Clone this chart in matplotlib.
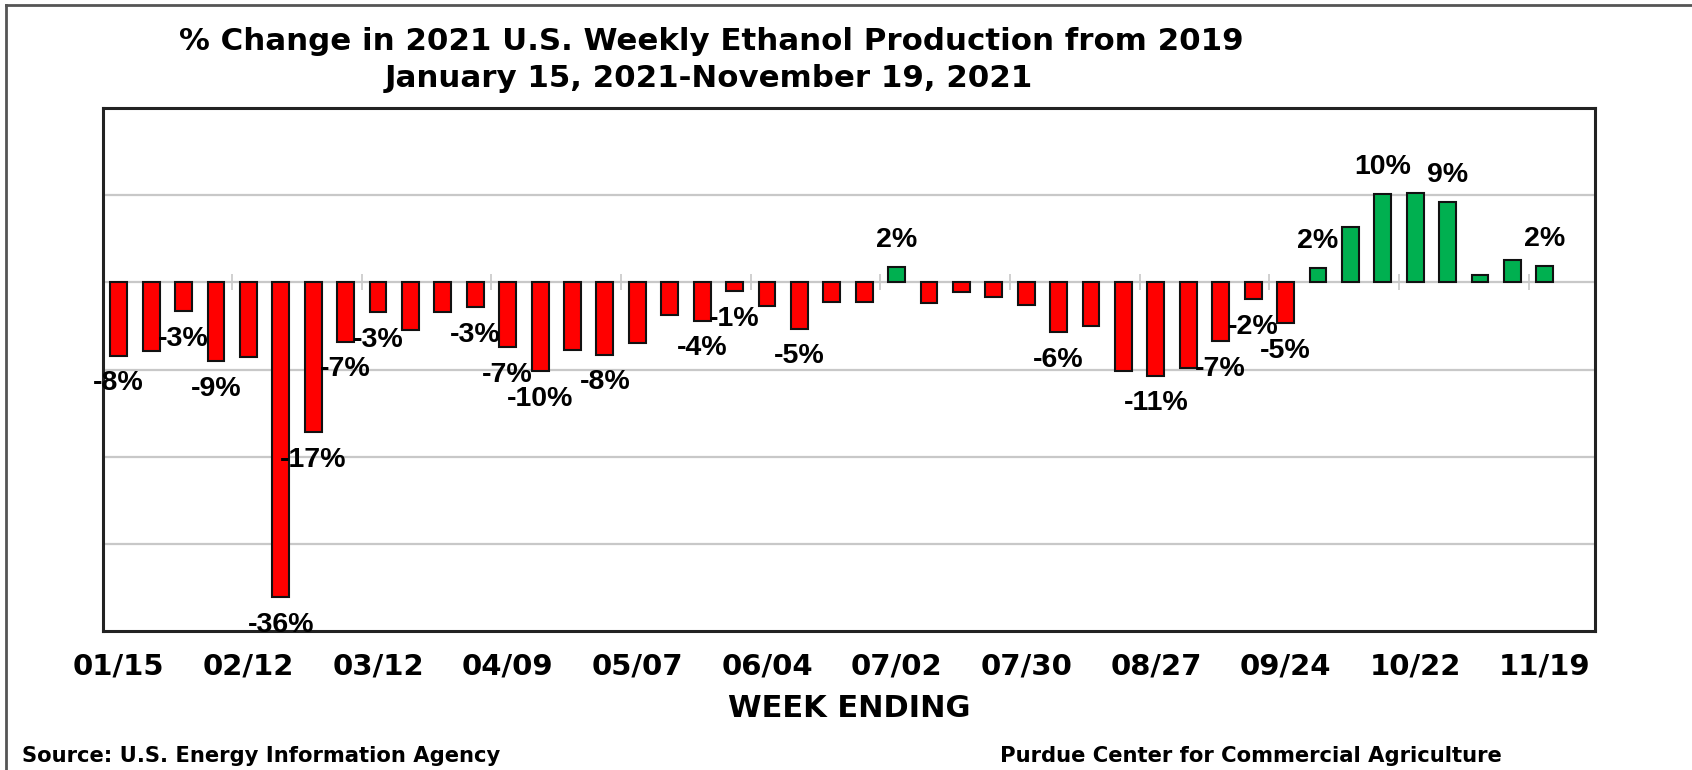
import matplotlib
matplotlib.use("Agg")
import matplotlib.pyplot as plt
from matplotlib.lines import Line2D
import numpy as np

# ---- data ----
tick_labels = ['01/15', '02/12', '03/12', '04/09', '05/07', '06/04',
               '07/02', '07/30', '08/27', '09/24', '10/22', '11/19']
values = [-8.4, -7.9, -3.3, -9.0, -8.6, -36.1, -17.2, -6.8, -3.4, -5.5,
          -3.4, -2.8, -7.4, -10.2, -7.8, -8.3, -6.9, -3.7, -4.4, -1.0,
          -2.7, -5.3, -2.3, -2.2, 1.8, -2.4, -1.1, -1.7, -2.6, -5.7,
          -5.0, -10.2, -10.7, -9.8, -6.7, -1.9, -4.7, 1.6, 6.3, 10.1,
          10.2, 9.2, 0.8, 2.6, 1.9]
label_idx = [0, 2, 3, 5, 6, 7, 8, 11, 12, 13, 15, 18, 19, 21, 24, 29, 32,
             34, 35, 36, 37, 39, 41, 44]
title1 = '% Change in 2021 U.S. Weekly Ethanol Production from 2019'
title2 = 'January 15, 2021-November 19, 2021'
xlabel = 'WEEK ENDING'
source = 'Source: U.S. Energy Information Agency'
credit = 'Purdue Center for Commercial Agriculture'

RED = '#FF0000'
GREEN = '#00B050'
GRID = '#C8C8C8'

fig = plt.figure(figsize=(16.92, 7.7), dpi=100)
ax = fig.add_axes([0.0606, 0.1805, 0.8821, 0.6792])

x = np.arange(len(values))
colors = [GREEN if v > 0 else RED for v in values]
ax.bar(x, values, width=0.52, color=colors, edgecolor='#111111',
       linewidth=1.5, zorder=3)

ymin, ymax = -40, 20
ax.set_ylim(ymin, ymax)
ax.set_xlim(-0.5, 45.55)
ax.set_yticks([-30, -20, -10, 0, 10])
ax.yaxis.grid(True, color=GRID, linewidth=1.6, zorder=0)
ax.tick_params(axis='y', left=False, labelleft=False)

ax.set_xticks(np.arange(0, len(values), 4))
ax.set_xticklabels(tick_labels, fontfamily='DejaVu Sans', fontweight='bold',
                   fontsize=21)
ax.tick_params(axis='x', bottom=False, pad=12)

for s in ax.spines.values():
    s.set_linewidth(2.2)
    s.set_color('#222222')

# tick marks on the zero line between groups of weeks
sec = ax.secondary_xaxis((0 - ymin) / (ymax - ymin))
sec.set_xticks(np.arange(-0.5, len(values), 4))
sec.set_xticklabels([])
sec.tick_params(axis='x', direction='inout', length=11.5, width=1.2,
                color=GRID, labelbottom=False, labeltop=False)
for s in sec.spines.values():
    s.set_visible(False)

# data labels
for i in label_idx:
    v = values[i]
    off = 19.5 if v > 0 else -20
    ax.annotate(f'{round(v):d}%', (x[i], v), xytext=(0, off),
                textcoords='offset points', ha='center', va='center',
                fontfamily='Liberation Sans', fontweight='bold', fontsize=20.5,
                zorder=5)

fig.text(0.4202, 0.946, title1, ha='center', va='center',
         fontfamily='DejaVu Sans', fontweight='bold', fontsize=22.2)
fig.text(0.4190, 0.8987, title2, ha='center', va='center',
         fontfamily='DejaVu Sans', fontweight='bold', fontsize=22.2)
fig.text(0.5018, 0.080, xlabel, ha='center', va='center',
         fontfamily='DejaVu Sans', fontweight='bold', fontsize=22)
fig.text(0.013, 0.0185, source, ha='left', va='center',
         fontfamily='DejaVu Sans', fontweight='bold', fontsize=15.2)
fig.text(0.591, 0.0185, credit, ha='left', va='center',
         fontfamily='DejaVu Sans', fontweight='bold', fontsize=15.2)

# outer border (top and left)
fig.add_artist(Line2D([0.0036, 1.0], [0.9935, 0.9935], transform=fig.transFigure,
                      color='#555555', linewidth=2))
fig.add_artist(Line2D([0.0036, 0.0036], [0.0, 0.9935], transform=fig.transFigure,
                      color='#555555', linewidth=2))

fig.savefig('out.png', dpi=100)
